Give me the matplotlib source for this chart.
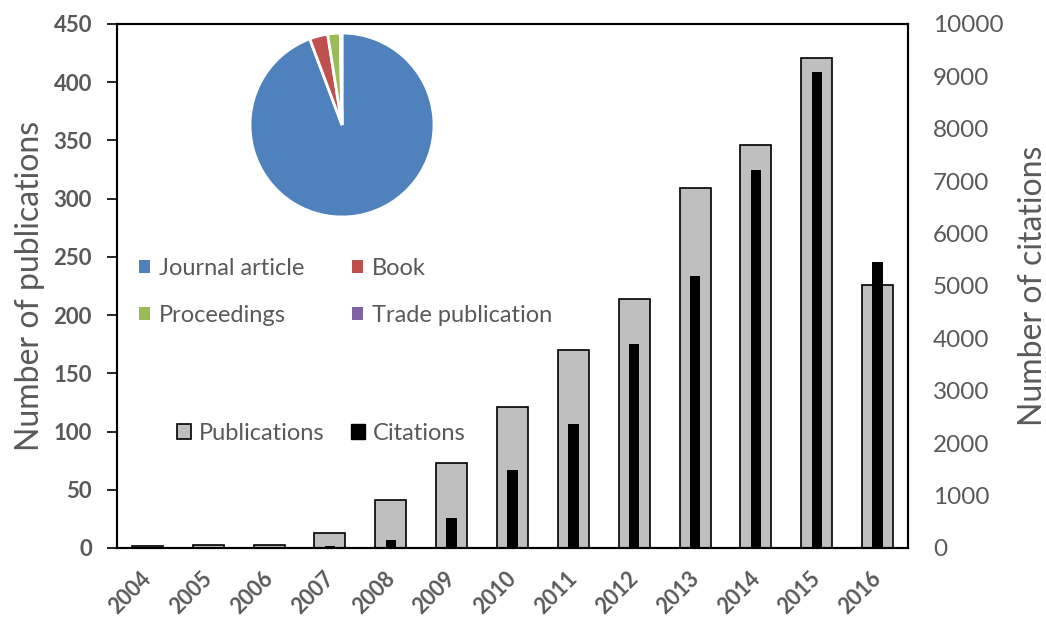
import matplotlib.pyplot as plt
import matplotlib.transforms as mtransforms
import numpy as np
from matplotlib.patches import Patch

years = ["2004", "2005", "2006", "2007", "2008", "2009", "2010",
         "2011", "2012", "2013", "2014", "2015", "2016"]
publications = [2, 3, 3, 13, 41, 73, 121, 170, 214, 309, 346, 421, 226]
citations = [15, 20, 25, 30, 160, 580, 1490, 2370, 3890, 5190, 7220, 9090, 5460]

pub_types = ["Journal article", "Book", "Proceedings", "Trade publication"]
pub_shares = [94.3, 3.2, 2.2, 0.3]
pub_colors = ["#4f81bd", "#c0504d", "#9bbb59", "#8064a2"]

GREY = "#595959"
plt.rcParams["font.family"] = ["Lato", "DejaVu Sans"]

fig = plt.figure(figsize=(10.46, 6.2), dpi=100)
ax = fig.add_axes([117 / 1046, 1 - 548 / 620, (908 - 117) / 1046, (548 - 24) / 620])
ax2 = ax.twinx()

x = np.arange(len(years))
ax.bar(x, publications, width=0.51, color="#bfbfbf", edgecolor="black", linewidth=1.2, zorder=2)
ax2.bar(x, citations, width=0.17, color="black", zorder=3)

ax.set_xlim(-0.5, len(years) - 0.5)
ax.set_ylim(0, 450)
ax.set_yticks(range(0, 451, 50))
ax2.set_ylim(0, 10000)
ax2.set_yticks(range(0, 10001, 1000))

ax.set_xticks(x)
ax.set_xticklabels(years, rotation=45, ha="right", rotation_mode="anchor",
                   fontweight="bold", fontsize=15.5, color=GREY)
ax.tick_params(axis="x", length=0, pad=14)
# nudge the rotated year labels a little to the left, like the original
shift = mtransforms.ScaledTranslation(-7 / 100, 0, fig.dpi_scale_trans)
for lab in ax.get_xticklabels():
    lab.set_transform(lab.get_transform() + shift)
ax.tick_params(axis="y", direction="out", length=7, width=1.2, labelsize=16,
               labelcolor=GREY, pad=11)
for lab in ax.get_yticklabels():
    lab.set_fontweight("bold")
ax2.tick_params(axis="y", length=0, labelsize=17.5, labelcolor=GREY, pad=18)

for a in (ax, ax2):
    for s in a.spines.values():
        s.set_linewidth(1.5)
        s.set_color("black")

ax.set_ylabel("Number of publications", fontsize=23, color=GREY, labelpad=6)
ax2.set_ylabel("Number of citations", fontsize=23, color=GREY, labelpad=10)

handles = [Patch(facecolor="#bfbfbf", edgecolor="black", linewidth=1.2),
           Patch(facecolor="black", edgecolor="black")]
fig.legend(handles, ["Publications", "Citations"], loc="center left",
           bbox_to_anchor=(156 / 1046, 1 - 433 / 620), ncol=2, frameon=False, fontsize=17,
           labelcolor=GREY, handlelength=0.6, handleheight=0.6, handletextpad=0.3,
           columnspacing=1.15)

# pie inset
pax = fig.add_axes([(342 - 92) / 1046, 1 - (125 + 92) / 620, 184 / 1046, 184 / 620])
pax.pie(pub_shares, colors=pub_colors, startangle=90, counterclock=False,
        wedgeprops=dict(edgecolor="white", linewidth=2))
pax.set_xlim(-1, 1)
pax.set_ylim(-1, 1)
pax.set_aspect("equal")

# legend fills columns first: reorder so rows read Journal/Book, Proceedings/Trade
order = [0, 2, 1, 3]
pie_handles = [Patch(facecolor=pub_colors[i]) for i in order]
fig.legend(pie_handles, [pub_types[i] for i in order], loc="center left",
           bbox_to_anchor=(118 / 1046, 1 - 292 / 620), ncol=2, frameon=False, fontsize=17,
           labelcolor=GREY, handlelength=0.45, handleheight=0.45, handletextpad=0.4,
           columnspacing=2.0, labelspacing=1.1)

fig.savefig("out.png", dpi=100)
